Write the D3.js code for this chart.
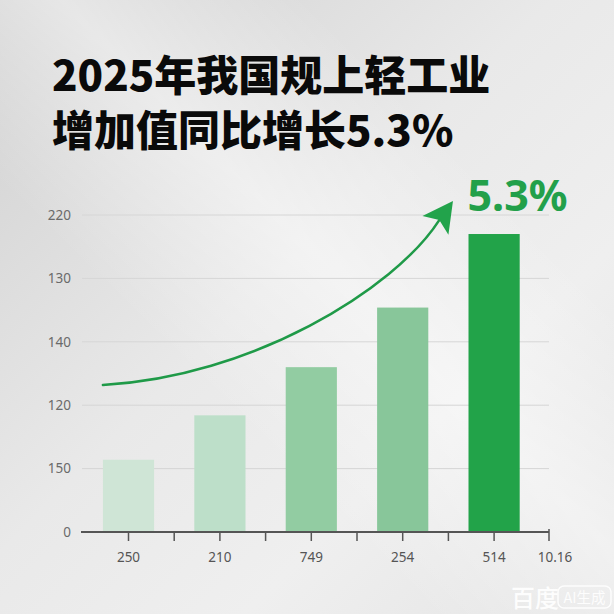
<!DOCTYPE html>
<html><head><meta charset="utf-8">
<script src="https://cdn.jsdelivr.net/npm/d3@7/dist/d3.min.js"></script>
<style>html,body{margin:0;padding:0;background:#e9e9e9;}svg{display:block;}</style>
</head><body>
<svg id="chart" width="614" height="614"></svg>
<script>
// ---- data ----
const titleLines = ["2025年我国规上轻工业", "增加值同比增长5.3%"];
const categories = ["250", "210", "749", "254", "514"];
const extraXLabel = "10.16";
const values = [57, 92, 130, 177, 235];
const barColors = ["#cfe5d6", "#bddfc9", "#92cca2", "#88c69a", "#22a349"];
const yTickValues = [0, 50, 100, 150, 200, 250];
const yTickLabels = ["0", "150", "120", "140", "130", "220"];
const growthLabel = "5.3%";
// trend arrow anchors: [slot position, value]
const arrowPath = [[0.22, 116], [1.83, 122], [3.41, 191], [3.90, 246]];
const arrowTip = [4.05, 261];

const svg = d3.select("#chart");
const W = 614, H = 614;

// ---- background ----
const defs = svg.append("defs");
const bg = defs.append("linearGradient").attr("id", "bg").attr("x1", 0).attr("y1", 0).attr("x2", 1).attr("y2", 1);
bg.append("stop").attr("offset", "0").attr("stop-color", "#d0d0d0");
bg.append("stop").attr("offset", "0.45").attr("stop-color", "#e9e9e9");
bg.append("stop").attr("offset", "0.7").attr("stop-color", "#efefef");
bg.append("stop").attr("offset", "1").attr("stop-color", "#e4e4e4");
svg.append("rect").attr("width", W).attr("height", H).attr("fill", "url(#bg)");
const streak = defs.append("linearGradient").attr("id", "streak").attr("x1", 0).attr("y1", 1).attr("x2", 1).attr("y2", 0);
streak.append("stop").attr("offset", "0.35").attr("stop-color", "#fff").attr("stop-opacity", 0);
streak.append("stop").attr("offset", "0.55").attr("stop-color", "#fff").attr("stop-opacity", 0.45);
streak.append("stop").attr("offset", "0.75").attr("stop-color", "#fff").attr("stop-opacity", 0);
svg.append("rect").attr("width", W).attr("height", H).attr("fill", "url(#streak)");

// ---- title ----
const title = svg.append("g").attr("font-family", "'Noto Sans CJK SC', sans-serif")
  .attr("font-weight", 900).attr("font-size", 42).attr("fill", "#0a0a0a");
title.selectAll("text").data(titleLines).join("text")
  .attr("x", 52).attr("y", (d, i) => 91 + i * 55).text(d => d);

// ---- scales ----
const x = d3.scaleBand().domain(categories).range([82.8, 539.8]).paddingInner(0.44).paddingOuter(0.22);
const slot = d3.scaleLinear().domain([0, categories.length]).range([82.8, 539.8]);
const y = d3.scaleLinear().domain([0, 250]).range([532, 215]);
const xEnd = 549;

// grid
svg.append("g").selectAll("line").data(yTickValues.slice(1)).join("line")
  .attr("x1", 82).attr("x2", xEnd).attr("y1", d => y(d)).attr("y2", d => y(d))
  .attr("stroke", "#d6d6d6").attr("stroke-width", 1);

// y labels
svg.append("g").attr("font-family", "'Noto Sans', sans-serif").attr("font-size", 13.5).attr("fill", "#6a6a6a")
  .selectAll("text").data(yTickValues).join("text")
  .attr("x", 71).attr("y", d => y(d)).attr("dy", "0.35em").attr("text-anchor", "end")
  .text((d, i) => yTickLabels[i]);

// bars
svg.append("g").selectAll("rect").data(values).join("rect")
  .attr("x", (d, i) => x(categories[i])).attr("width", x.bandwidth())
  .attr("y", d => y(d)).attr("height", d => y(0) - y(d))
  .attr("fill", (d, i) => barColors[i]);

// x axis
const ax = svg.append("g");
ax.append("line").attr("x1", 81).attr("x2", xEnd).attr("y1", y(0)).attr("y2", y(0))
  .attr("stroke", "#555").attr("stroke-width", 2);
const tickPos = [];
categories.forEach((c, i) => { tickPos.push(slot(i + 0.5)); tickPos.push(slot(i + 1)); });
tickPos.pop();
tickPos.push(xEnd);
ax.selectAll("line.t").data(tickPos).join("line").attr("class", "t")
  .attr("x1", d => d).attr("x2", d => d).attr("y1", (d, i) => i === tickPos.length - 1 ? y(0) - 3 : y(0))
  .attr("y2", y(0) + 9).attr("stroke", "#555").attr("stroke-width", 1.5);
const xl = svg.append("g").attr("font-family", "'Noto Sans', sans-serif").attr("font-size", 13.5).attr("fill", "#555")
  .attr("text-anchor", "middle");
xl.selectAll("text").data(categories.concat([extraXLabel])).join("text")
  .attr("x", (d, i) => i < categories.length ? x(d) + x.bandwidth() / 2 : xEnd + 6)
  .attr("y", 557).attr("dy", "0.35em").text(d => d);

// trend arrow
const p = arrowPath.map(([s, v]) => [slot(s), y(v)]);
const path = d3.path();
path.moveTo(p[0][0], p[0][1]);
path.bezierCurveTo(p[1][0], p[1][1], p[2][0], p[2][1], p[3][0], p[3][1]);
svg.append("path").attr("d", path.toString()).attr("fill", "none")
  .attr("stroke", "#1f9a48").attr("stroke-width", 2.5).attr("stroke-linecap", "round");
const tip = [slot(arrowTip[0]), y(arrowTip[1])];
const dx = tip[0] - p[3][0], dy = tip[1] - p[3][1];
const len = Math.hypot(dx, dy), ux = dx / len, uy = dy / len;
const headLen = 30, headHalf = 16;
const base = [tip[0] - ux * headLen, tip[1] - uy * headLen];
const notch = [tip[0] - ux * headLen * 0.78, tip[1] - uy * headLen * 0.78];
svg.append("path").attr("fill", "#22a34b")
  .attr("d", `M${tip[0]},${tip[1]} L${base[0] - uy * headHalf},${base[1] + ux * headHalf} L${notch[0]},${notch[1]} L${base[0] + uy * headHalf},${base[1] - ux * headHalf} Z`);

// growth label
svg.append("text").attr("x", x(categories[4]) - 1).attr("y", 211)
  .attr("font-family", "'Noto Sans', sans-serif").attr("font-weight", 700).attr("font-size", 43)
  .attr("fill", "#22a04a").text(growthLabel);

// watermark
const wm = svg.append("g").attr("font-family", "'Noto Sans CJK SC', sans-serif").attr("fill", "#fff").attr("opacity", 0.9);
wm.append("text").attr("x", 511).attr("y", 607).attr("font-size", 24).attr("font-weight", 500).text("百度");
wm.append("rect").attr("x", 558).attr("y", 586).attr("width", 53).attr("height", 22).attr("rx", 6)
  .attr("fill", "none").attr("stroke", "#fff").attr("stroke-width", 1.5);
wm.append("text").attr("x", 584.5).attr("y", 602.5).attr("text-anchor", "middle").attr("font-size", 14.5).text("AI生成");
</script>
</body></html>
